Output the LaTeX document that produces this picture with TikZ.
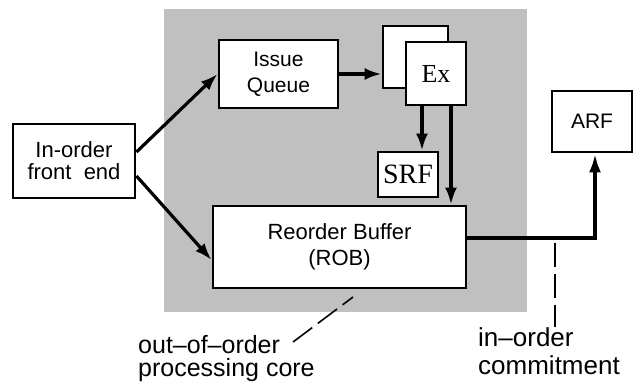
\documentclass[tikz,border=0pt]{standalone}
\usepackage{fontspec}
\setmainfont{Liberation Serif}
\setsansfont{Liberation Sans}
\usetikzlibrary{
  arrows.meta,
  positioning,
  calc
}
\definecolor{oooCore}{RGB}{192,192,192}
\definecolor{oooLine}{RGB}{0,0,0}
\tikzset{
  ooobox/.style={
    draw=oooLine,
    line width=2.9pt,
    fill=white,
    align=center,
    inner sep=0pt,
    font=\sffamily\fontsize{22}{26}\selectfont
  },
  serifbox/.style={
    ooobox,
    font=\rmfamily\fontsize{26}{30}\selectfont
  },
  oooarrow/.style={
    -{Latex[length=17pt,width=12pt]},
    line width=3.2pt,
    draw=oooLine
  },
  commitline/.style={
    -{Latex[length=19pt,width=12pt]},
    line width=4.6pt,
    draw=oooLine
  },
  notedash/.style={
    line width=1.6pt,
    dash pattern=on 24pt off 7pt,
    draw=oooLine
  },
  notelabel/.style={
    align=left,
    inner sep=0pt,
    font=\sffamily\fontsize{25}{23}\selectfont
  }
}

\begin{document}
\begin{tikzpicture}[x=1pt, y=-1pt]
  \useasboundingbox (0,0) rectangle (634,382);

  % shaded out-of-order core
  \node[fill=oooCore, inner sep=0pt, minimum width=363pt, minimum height=303pt] (core) at (345.5,160.5) {};

  \node[ooobox, minimum width=122pt, minimum height=74pt] (frontend) at (74,161)
    {In-order\\[-4pt]front\ \ end};
  \node[ooobox, font=\sffamily\fontsize{21}{26}\selectfont, minimum width=119pt, minimum height=68pt] (issueq) at (278.5,74)
    {Issue\\Queue};
  \node[serifbox, minimum width=65pt, minimum height=62pt] (exback) at (415.5,57) {};
  \node[serifbox, minimum width=60pt, minimum height=63pt] (ex) at (436,73.5) {Ex};
  \node[serifbox, font=\rmfamily\fontsize{28}{30}\selectfont, minimum width=60pt, minimum height=45pt] (srf) at (408,174.5) {SRF};
  \node[ooobox, minimum width=253pt, minimum height=82pt] (rob) at (339.5,247)
    {Reorder Buffer\\(ROB)};
  \node[ooobox, font=\sffamily\fontsize{21}{26}\selectfont, minimum width=80pt, minimum height=61pt] (arf) at (592,121.5) {ARF};

  \draw[oooarrow] ([yshift=9pt]frontend.east) -- (issueq.west);
  \draw[oooarrow] ([yshift=-15pt]frontend.east) -- ([yshift=-13pt]rob.west);
  \draw[oooarrow] (issueq.east) -- (issueq.east -| exback.west);
  \draw[oooarrow] ([xshift=-14pt]ex.south) -- ([xshift=-14pt]ex.south |- srf.north);
  \draw[oooarrow] ([xshift=15pt]ex.south) -- ([xshift=15pt]ex.south |- rob.north);
  \draw[commitline] ([yshift=9pt]rob.east) -| ([xshift=3pt]arf.south);

  % callouts
  \node[notelabel, anchor=north west] (ooolabel) at (138,335)
    {out--of--order\\processing core};
  \node[notelabel, font=\sffamily\fontsize{26}{28}\selectfont, anchor=north west] (commitlabel) at (478,327)
    {in--order\\commitment};
  \coordinate (ooofoot) at (293,342);
  \coordinate (ooopt) at (353,297);
  \coordinate (commitpt) at (555,243);
  \draw[notedash] (ooofoot) -- (ooopt);
  \draw[notedash] (commitpt) -- (commitpt |- commitlabel.north);
\end{tikzpicture}
\end{document}
